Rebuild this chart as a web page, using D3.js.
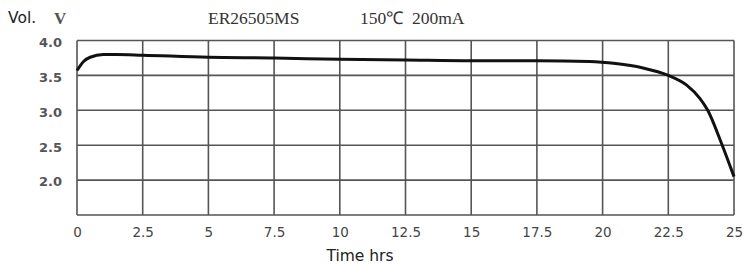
<!DOCTYPE html>
<html><head><meta charset="utf-8">
<script src="https://cdn.jsdelivr.net/npm/d3@7"></script>
<style>body{margin:0;background:#fff;}svg{display:block;}</style>
</head><body>
<svg id="c" width="743" height="264"></svg>
<script>
const hours =   [0, 0.25, 0.5, 1.0, 1.5, 2.5, 5, 7.5, 10, 12.5, 15, 17.5, 19.5, 20.5, 21.5, 22.5, 23.2, 23.7, 24.0, 24.5, 25];
const voltage = [3.57, 3.70, 3.76, 3.80, 3.80, 3.79, 3.76, 3.75, 3.73, 3.72, 3.71, 3.71, 3.70, 3.67, 3.61, 3.50, 3.36, 3.17, 3.00, 2.55, 2.05];
const xTicks = [0, 2.5, 5, 7.5, 10, 12.5, 15, 17.5, 20, 22.5, 25];
const xTickLabels = ["0","2.5","5","7.5","10","12.5","15","17.5","20","22.5","25"];
const yTicks = [4.0, 3.5, 3.0, 2.5, 2.0];
const yTickLabels = ["4.0","3.5","3.0","2.5","2.0"];
const title1 = "ER26505MS", title2 = "150℃  200mA";

const svg = d3.select("#c");
const x = d3.scaleLinear().domain([0, 25]).range([77, 734]);
const y = d3.scaleLinear().domain([1.5, 4.0]).range([215, 40.5]);
const gridColor = "#555";

// grid
const g = svg.append("g");
g.selectAll(".vx").data(xTicks).enter().append("line")
  .attr("x1", d => x(d)).attr("x2", d => x(d)).attr("y1", y(4.0)).attr("y2", y(1.5))
  .attr("stroke", gridColor).attr("stroke-width", 1.6);
g.selectAll(".hy").data(yTicks.concat([1.5])).enter().append("line")
  .attr("x1", x(0)).attr("x2", x(25)).attr("y1", d => y(d)).attr("y2", d => y(d))
  .attr("stroke", gridColor).attr("stroke-width", 1.6);

// axes labels via d3 axes (no domain/ticks lines)
const xAxis = d3.axisBottom(x).tickValues(xTicks).tickFormat((d,i) => xTickLabels[i]).tickSize(0).tickPadding(12);
const xa = svg.append("g").attr("transform", `translate(0,${y(1.5)})`).call(xAxis);
xa.select(".domain").remove();
xa.selectAll("text").attr("font-family", "DejaVu Sans").attr("font-size", 13.5).attr("fill", "#444");

const yAxis = d3.axisLeft(y).tickValues(yTicks).tickFormat((d,i) => yTickLabels[i]).tickSize(0).tickPadding(15);
const ya = svg.append("g").attr("transform", `translate(${x(0)},0)`).call(yAxis);
ya.select(".domain").remove();
ya.selectAll("text").attr("font-family", "DejaVu Sans").attr("font-size", 13).attr("font-weight", "bold").attr("fill", "#555").attr("dy", "0.45em");

// curve
const line = d3.line().x((d,i) => x(hours[i])).y(d => y(d)).curve(d3.curveMonotoneX);
svg.append("path").attr("d", line(voltage)).attr("fill", "none").attr("stroke", "#111").attr("stroke-width", 3);

// texts
svg.append("text").attr("x", 8).attr("y", 23).text("Vol.").attr("font-family", "DejaVu Sans").attr("font-size", 15.5).attr("fill", "#222");
svg.append("text").attr("x", 54).attr("y", 24).text("V").attr("font-family", "Liberation Serif").attr("font-size", 17).attr("font-weight", "bold").attr("fill", "#555");
svg.append("text").attr("x", 208).attr("y", 24).text(title1).attr("font-family", "Liberation Serif").attr("font-size", 17.5).attr("fill", "#333");
svg.append("text").attr("x", 360).attr("y", 24).attr("xml:space", "preserve").style("white-space", "pre").text(title2).attr("font-family", "Liberation Serif").attr("font-size", 17.5).attr("fill", "#333");
svg.append("text").attr("x", 360).attr("y", 261).attr("text-anchor", "middle").text("Time hrs").attr("font-family", "DejaVu Sans").attr("font-size", 15.5).attr("fill", "#222");
</script>
</body></html>
